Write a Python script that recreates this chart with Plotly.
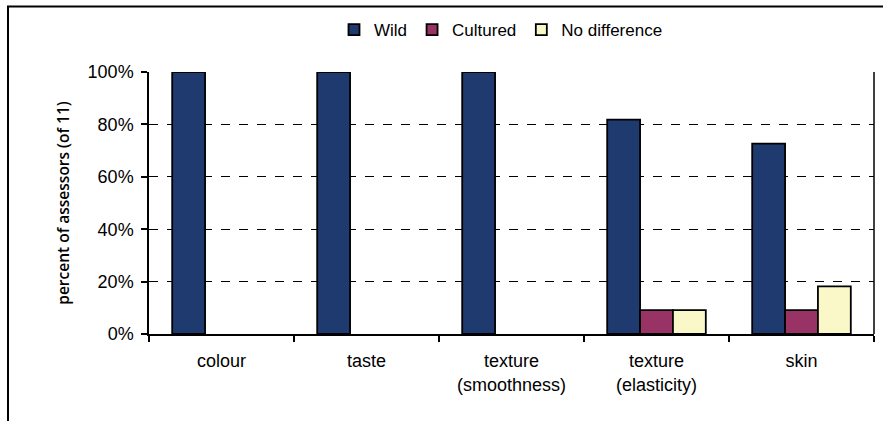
import plotly.graph_objects as go

categories = ["colour", "taste", "texture<br>(smoothness)", "texture<br>(elasticity)", "skin"]
wild = [100, 100, 100, 81.8, 72.7]
cultured = [0, 0, 0, 9.1, 9.1]
no_diff = [0, 0, 0, 9.1, 18.2]
y_ticks = [0, 20, 40, 60, 80, 100]
y_tick_text = [f"{v}%" for v in y_ticks]

series = [("Wild", wild, "#1F3A6E"), ("Cultured", cultured, "#993366"), ("No difference", no_diff, "#FAF8C8")]

W, H = 883, 421
L, R, T, B = 149, 9, 72, 87
pw, ph = W - L - R, H - T - B

def px(x):
    return (x - L) / pw

def py(y):
    return (H - B - y) / ph

fig = go.Figure()
for name, vals, col in series:
    fig.add_trace(go.Bar(x=categories, y=vals, name=name, showlegend=False,
                         marker=dict(color=col,
                                     line=dict(color="black", width=[1.8 if v > 0 else 0 for v in vals]))))
# legend entries (square swatches with outline)
for name, vals, col in series:
    fig.add_trace(go.Scatter(x=[None], y=[None], mode="markers", name=name,
                             marker=dict(symbol="square", size=11, color=col,
                                         line=dict(color="black", width=1.8))))

fig.update_layout(
    width=W, height=H,
    margin=dict(l=L, r=R, t=T, b=B),
    paper_bgcolor="white", plot_bgcolor="white",
    font=dict(family="Liberation Sans, Arial", size=18, color="black"),
    barmode="group", bargap=0.32, bargroupgap=0,
    legend=dict(orientation="h", x=px(501), xanchor="center", y=py(30), yanchor="middle",
                font=dict(size=17), itemwidth=30, traceorder="normal", tracegroupgap=0),
    xaxis=dict(type="category", tickson="boundaries", ticks="outside", ticklen=6,
               tickcolor="black", tickwidth=1.5, showline=True, linecolor="black", linewidth=1.5,
               showgrid=False, mirror=False, ticklabelstandoff=10),
    yaxis=dict(range=[0, 100], tickvals=y_ticks, ticktext=y_tick_text, ticks="outside", ticklen=6,
               tickcolor="black", tickwidth=1.5, showline=True, linecolor="black", linewidth=1.5,
               showgrid=True, gridcolor="black", griddash="dash", gridwidth=1,
               ticklabelstandoff=4,
               title=dict(text="percent of assessors (of 11)", standoff=14,
                          font=dict(family="Open Sans", size=15.5, weight=600)),
               zeroline=False),
)

# right border of plot area
fig.add_shape(type="line", xref="paper", yref="paper", x0=1, x1=1, y0=0, y1=1,
              line=dict(color="black", width=1.5))
# outer chart frame (top and left visible)
fig.add_shape(type="rect", xref="paper", yref="paper", x0=px(8), x1=px(900), y0=py(440), y1=py(6.5),
              line=dict(color="black", width=2), layer="above")

fig.write_html("out.html", config={"displayModeBar": False},
               post_script="document.body.style.margin='0';")
